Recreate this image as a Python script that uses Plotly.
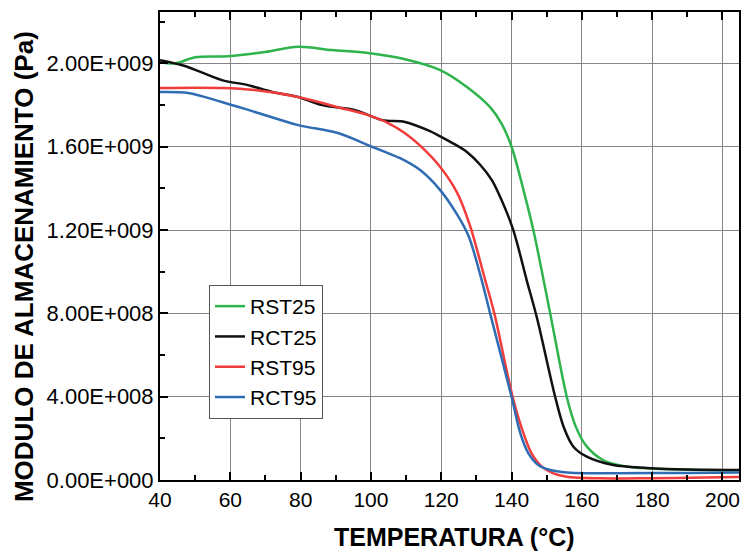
import plotly.graph_objects as go

# ---- data (E' in units of 1e9 Pa) ----
rst25_T = [40, 44.3, 50, 59.3, 69.9, 79.3, 88.9, 99.2, 109.7, 119.7, 127.3, 133.9, 137.2, 140.0,
           143.4, 146.2, 151.0, 155.7, 158.3, 161.2, 166, 173.7, 183.1, 195, 205]
rst25_E = [2.006, 2.0, 2.03, 2.035, 2.055, 2.08, 2.064, 2.05, 2.02, 1.968, 1.887, 1.79, 1.71, 1.6,
           1.392, 1.2, 0.8, 0.4, 0.255, 0.165, 0.096, 0.062, 0.053, 0.048, 0.047]

rct25_T = [40, 47.1, 57.6, 65, 71.9, 79.3, 86.1, 95.5, 103.2, 109.7, 116.8, 119.7, 123.5, 127.3,
           131.0, 134.4, 137.0, 140.5, 144.3, 147.2, 152.4, 154.8, 157.6, 161.4, 168.9,
           178.5, 190, 205]
rct25_E = [2.016, 1.988, 1.92, 1.896, 1.863, 1.839, 1.8, 1.776, 1.728, 1.719, 1.675, 1.65, 1.615, 1.575,
           1.515, 1.44, 1.35, 1.2, 0.96, 0.78, 0.4, 0.256, 0.16, 0.112, 0.072,
           0.058, 0.05, 0.048]

rst95_T = [40, 57.6, 67, 79.3, 90.6, 99.2, 104.9, 109.7, 114.0, 119.7, 124.5, 128.2, 132.5, 135.1,
           140.3, 143.4, 145.7, 148.6, 151.9, 155.7, 165, 180, 195, 205]
rst95_E = [1.882, 1.882, 1.872, 1.839, 1.79, 1.752, 1.714, 1.665, 1.605, 1.503, 1.38, 1.22, 0.96, 0.8,
           0.4, 0.224, 0.128, 0.064, 0.032, 0.016, 0.008, 0.009, 0.012, 0.015]

rct95_T = [40, 48, 57.6, 67, 79.3, 90.6, 100.3, 104.0, 108.3, 114.0, 119.7, 124.5, 127.8, 131.5,
           133.9, 140.0, 142.5, 144.8, 147.6, 151.0, 156.7, 170, 190, 205]
rct95_E = [1.863, 1.858, 1.815, 1.767, 1.704, 1.666, 1.6, 1.575, 1.545, 1.488, 1.392, 1.275, 1.17, 0.96,
           0.8, 0.4, 0.224, 0.128, 0.072, 0.048, 0.035, 0.033, 0.034, 0.036]

series_names = ["RST25", "RCT25", "RST95", "RCT95"]
series_colors = ["#2fb34c", "#111111", "#f23b3b", "#2f6cb3"]

y_tickvals = [0, 4e8, 8e8, 1.2e9, 1.6e9, 2.0e9]
y_ticktext = ["0.00E+000", "4.00E+008", "8.00E+008", "1.20E+009", "1.60E+009", "2.00E+009"]
x_tickvals = [40, 60, 80, 100, 120, 140, 160, 180, 200]

FONT = "Liberation Sans, Arial, sans-serif"

fig = go.Figure()
for name, color, T, E in zip(series_names, series_colors,
                             [rst25_T, rct25_T, rst95_T, rct95_T],
                             [rst25_E, rct25_E, rst95_E, rct95_E]):
    fig.add_trace(go.Scatter(x=T, y=[e * 1e9 for e in E], mode="lines", name=name,
                             line=dict(color=color, width=2.5, shape="spline", smoothing=0.9)))

fig.update_layout(
    width=745, height=551,
    margin=dict(l=160, r=6, t=12, b=71),
    paper_bgcolor="white", plot_bgcolor="white",
    font=dict(family=FONT, color="black", size=21),
    showlegend=True,
    legend=dict(x=0.0846, y=0.4167, xanchor="left", yanchor="top",
                bgcolor="white", bordercolor="#555555", borderwidth=1,
                font=dict(size=21, family=FONT), tracegroupgap=0,
                itemwidth=30),
    xaxis=dict(range=[40, 204.7], tickvals=x_tickvals, ticks="inside", ticklen=8, tickwidth=1.5,
               tickcolor="black", showline=True, linecolor="black", linewidth=2, mirror="ticks",
               showgrid=True, gridcolor="#858585", gridwidth=1, zeroline=False, automargin=False,
               tickfont=dict(size=21),
               minor=dict(ticks="inside", ticklen=5, tickmode="linear", tick0=40, dtick=10,
                          tickcolor="black", showgrid=False)),
    yaxis=dict(range=[0, 2.247e9], tickvals=y_tickvals, ticktext=y_ticktext, ticks="inside",
               ticklen=8, tickwidth=1.5, tickcolor="black", showline=True, linecolor="black",
               linewidth=2, mirror=True, showgrid=True, gridcolor="#858585", gridwidth=1,
               zeroline=False, automargin=False, tickfont=dict(size=22), ticklabelstandoff=0,
               minor=dict(ticks="inside", ticklen=5, tickmode="linear", tick0=0, dtick=2e8,
                          tickcolor="black", showgrid=False)),
    annotations=[
        dict(text="MODULO DE ALMACENAMIENTO (Pa)", xref="paper", yref="paper",
             x=-0.235, y=0.457, xanchor="center", yanchor="middle", textangle=-90,
             showarrow=False, font=dict(size=26, family=FONT, weight="bold")),
        dict(text="TEMPERATURA (°C)", xref="paper", yref="paper",
             x=0.508, y=-0.122, xanchor="center", yanchor="middle",
             showarrow=False, font=dict(size=25, family=FONT, weight="bold")),
    ],
)

fig.write_html("out.html", config={"displayModeBar": False},
               post_script="document.body.style.margin='0';document.body.style.overflow='hidden';")
